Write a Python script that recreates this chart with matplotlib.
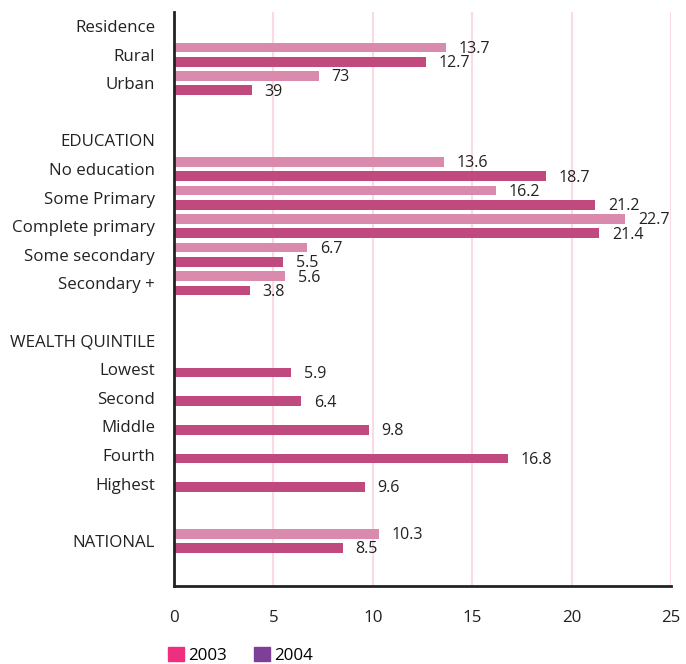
import matplotlib
matplotlib.use("Agg")
from matplotlib import pyplot as plt
from matplotlib.patches import Patch

plt.rcParams['font.family'] = ['Open Sans', 'DejaVu Sans']

# Rows from top to bottom; group headers carry no bars
rows = ["Residence", "Rural", "Urban", "",
        "EDUCATION", "No education", "Some Primary", "Complete primary",
        "Some secondary", "Secondary +", "",
        "WEALTH QUINTILE", "Lowest", "Second", "Middle", "Fourth", "Highest", "",
        "NATIONAL"]

# Values per row (None = no bar)
vals_2003 = [None, 13.7, 7.3, None,
             None, 13.6, 16.2, 22.7, 6.7, 5.6, None,
             None, None, None, None, None, None, None,
             10.3]
vals_2004 = [None, 12.7, 3.9, None,
             None, 18.7, 21.2, 21.4, 5.5, 3.8, None,
             None, 5.9, 6.4, 9.8, 16.8, 9.6, None,
             8.5]

# Printed value labels (Urban labels appear without the decimal point)
text_2003 = [None, "13.7", "73", None,
             None, "13.6", "16.2", "22.7", "6.7", "5.6", None,
             None, None, None, None, None, None, None,
             "10.3"]
text_2004 = [None, "12.7", "39", None,
             None, "18.7", "21.2", "21.4", "5.5", "3.8", None,
             None, "5.9", "6.4", "9.8", "16.8", "9.6", None,
             "8.5"]

c2003_bar = "#d98aad"
c2004_bar = "#c04a7e"
c2003_key = "#ee2f7f"
c2004_key = "#7e3f98"

fig = plt.figure(figsize=(6.86, 6.64), dpi=100)
ax = fig.add_axes([0.2536, 0.1175, 0.7245, 0.8645])

off = 0.25
h = 0.34
for i, (a, b) in enumerate(zip(vals_2003, vals_2004)):
    if a is not None:
        ax.barh(i - off, a, height=h, color=c2003_bar, zorder=2)
        ax.annotate(text_2003[i], (a, i - off), xytext=(9, -1),
                    textcoords="offset points", va="center", ha="left",
                    fontsize=11.5, color="#222222")
    if b is not None:
        # single-year rows sit just below the label line
        y = i + off if a is not None else i + 0.12
        ax.barh(y, b, height=h, color=c2004_bar, zorder=2)
        ax.annotate(text_2004[i], (b, y), xytext=(9, -1),
                    textcoords="offset points", va="center", ha="left",
                    fontsize=11.5, color="#222222")

ax.set_xlim(0, 25)
ax.set_ylim(19.58, -0.49)
ax.set_xticks([0, 5, 10, 15, 20, 25])
ax.set_yticks(range(len(rows)))
ax.set_yticklabels(rows)
ax.tick_params(axis="y", length=0, pad=13.5, labelsize=12.2, colors="#222222")
ax.tick_params(axis="x", length=0, pad=17, labelsize=12.2, colors="#222222")

ax.grid(axis="x", color="#fadbe3", linewidth=1.5, zorder=0)
ax.set_axisbelow(True)
for side in ("top", "right"):
    ax.spines[side].set_visible(False)
for side in ("left", "bottom"):
    ax.spines[side].set_color("#222222")
    ax.spines[side].set_linewidth(2)

handles = [Patch(color=c2003_key, label="2003"), Patch(color=c2004_key, label="2004")]
fig.legend(handles=handles, loc="center left", bbox_to_anchor=(0.235, 0.013),
           ncol=2, frameon=False, fontsize=12.2, handlelength=0.95, handleheight=0.95,
           handletextpad=0.25, columnspacing=1.6, borderaxespad=0)

fig.savefig("out.png", dpi=100)
